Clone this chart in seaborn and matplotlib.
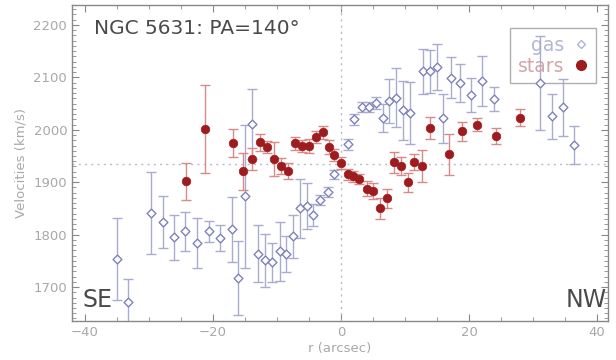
import matplotlib
matplotlib.use("Agg")
import matplotlib.pyplot as plt
import seaborn as sns
import numpy as np
import pandas as pd
from matplotlib.ticker import MultipleLocator
from matplotlib.lines import Line2D

# ---- data ----
gas_r = [-35.0, -33.3, -29.7, -27.8, -26.1, -24.4, -22.5, -20.6, -18.9, -17.0, -16.1, -15.0,
         -13.9, -13.0, -11.9, -10.7, -9.5, -8.6, -7.5, -6.4, -5.3, -4.4, -3.3, -2.0, -1.1,
         1.1, 2.0, 3.3, 4.4, 5.5, 6.6, 7.5, 8.6, 9.7, 10.8, 12.8, 13.9, 15.0, 16.0, 17.2,
         18.6, 20.3, 22.0, 23.9, 31.1, 33.0, 34.7, 36.4]
gas_v = [1753, 1671, 1841, 1824, 1795, 1806, 1784, 1806, 1793, 1810, 1717, 1873,
         2011, 1764, 1751, 1747, 1768, 1763, 1797, 1850, 1854, 1837, 1866, 1881, 1915,
         1972, 2020, 2043, 2043, 2051, 2022, 2055, 2061, 2037, 2032, 2112, 2112, 2120, 2022, 2099,
         2089, 2066, 2093, 2058, 2089, 2026, 2043, 1971]
gas_e = [78, 45, 78, 50, 43, 37, 47, 20, 25, 62, 70, 136,
         66, 55, 50, 37, 56, 34, 41, 57, 44, 21, 10, 10, 8,
         10, 10, 10, 10, 12, 27, 42, 56, 57, 59, 43, 41, 44, 47, 39,
         36, 32, 48, 23, 90, 43, 54, 37]

stars_r = [-24.2, -21.2, -16.9, -15.3, -13.9, -12.7, -11.5, -10.4, -9.4, -8.3, -7.2, -6.1,
           -5.0, -3.9, -2.8, -1.8, -1.1, 0.0, 1.1, 1.9, 2.8, 4.0, 5.0, 6.1, 7.2, 8.3,
           9.4, 10.5, 11.4, 12.7, 13.9, 16.9, 18.9, 21.2, 24.2, 28.0]
stars_v = [1902, 2001, 1975, 1921, 1944, 1976, 1967, 1944, 1931, 1921, 1974, 1969,
           1969, 1986, 1995, 1967, 1952, 1937, 1915, 1911, 1906, 1888, 1883, 1850, 1869, 1938,
           1931, 1900, 1938, 1931, 2003, 1953, 1997, 2010, 1988, 2023]
stars_e = [35, 84, 26, 35, 21, 16, 12, 32, 16, 15, 12, 12,
           14, 12, 12, 14, 12, 12, 10, 10, 10, 15, 15, 20, 18, 20,
           18, 18, 15, 30, 21, 39, 18, 12, 15, 16]

v_sys = 1935
x_ticks = [-40, -20, 0, 20, 40]
y_ticks = [1700, 1800, 1900, 2000, 2100, 2200]

gas_df = pd.DataFrame({"r": gas_r, "v": gas_v, "e": gas_e})
stars_df = pd.DataFrame({"r": stars_r, "v": stars_v, "e": stars_e})

# ---- style ----
sns.set_style("ticks")
plt.rcParams["font.family"] = ["DejaVu Sans"]

GAS_C = "#7f82b8"
GAS_EC = "#a9abd0"
STAR_C = "#9e1b1e"
STAR_EC = "#d88a8a"
TXT = "#4a4a4a"
LT = "#a8a8a8"

fig = plt.figure(figsize=(6.16, 3.6), dpi=100)
ax = fig.add_axes([0.117, 0.108, 0.870, 0.878])

# error bars
ax.errorbar(gas_df["r"], gas_df["v"], yerr=gas_df["e"], fmt="none",
            ecolor=GAS_EC, elinewidth=1.0, capsize=3.5, capthick=1.0, zorder=2)
ax.errorbar(stars_df["r"], stars_df["v"], yerr=stars_df["e"], fmt="none",
            ecolor=STAR_EC, elinewidth=1.0, capsize=3.5, capthick=1.0, zorder=3)

# markers via seaborn
sns.scatterplot(data=gas_df, x="r", y="v", ax=ax, marker="D", s=20,
                facecolor="white", edgecolor=GAS_C, linewidth=1.0, zorder=4)
sns.scatterplot(data=stars_df, x="r", y="v", ax=ax, marker="o", s=38,
                color=STAR_C, edgecolor=STAR_C, linewidth=0.5, zorder=5)

# reference lines
ax.axvline(0, color="#b8bcd0", linestyle=(0, (1.5, 3)), linewidth=1.0, zorder=1)
ax.axhline(v_sys, color="#b8bcd0", linestyle=(0, (1.5, 3)), linewidth=1.0, zorder=1)

ax.set_xlim(-42, 41.7)
ax.set_ylim(1635, 2238)
ax.set_xticks(x_ticks)
ax.set_yticks(y_ticks)
ax.xaxis.set_minor_locator(MultipleLocator(5))
ax.yaxis.set_minor_locator(MultipleLocator(10))
ax.tick_params(which="both", direction="in", top=True, right=True,
               colors="#888888", labelcolor=LT, labelsize=9.5)
ax.tick_params(which="major", length=5, width=0.8)
ax.tick_params(which="minor", length=3, width=0.6)
for s in ax.spines.values():
    s.set_color("#888888")
    s.set_linewidth(1.0)

ax.set_xlabel("r (arcsec)", color=LT, fontsize=9.5, labelpad=2)
ax.set_ylabel("Velocities (km/s)", color=LT, fontsize=9.5, labelpad=4)

ax.text(0.04, 0.955, "NGC 5631: PA=140°", transform=ax.transAxes,
        fontsize=14.5, color=TXT, va="top", ha="left")
ax.text(0.02, 0.03, "SE", transform=ax.transAxes, fontsize=17,
        color=TXT, va="bottom", ha="left")
ax.text(0.997, 0.03, "NW", transform=ax.transAxes, fontsize=17,
        color=TXT, va="bottom", ha="right")

handles = [
    Line2D([], [], linestyle="none", marker="D", markersize=4.5,
           markerfacecolor="white", markeredgecolor="#b0b2d4", markeredgewidth=1.0),
    Line2D([], [], linestyle="none", marker="o", markersize=7,
           markerfacecolor=STAR_C, markeredgecolor=STAR_C),
]
leg = ax.legend(handles, ["gas", "stars"], loc="upper right",
                bbox_to_anchor=(0.978, 0.927), markerfirst=False, fontsize=13.5,
                frameon=True, fancybox=False, handlelength=0.8, handletextpad=0.5,
                borderpad=0.4, labelspacing=0.12, borderaxespad=0.0)
leg.get_frame().set_edgecolor("#9a9a9a")
leg.get_frame().set_facecolor("none")
leg.get_frame().set_linewidth(1.0)
leg.set_zorder(1)
for t, c in zip(leg.get_texts(), ["#b4b6d2", "#d2a5a8"]):
    t.set_color(c)

fig.savefig("out.png", dpi=100)
